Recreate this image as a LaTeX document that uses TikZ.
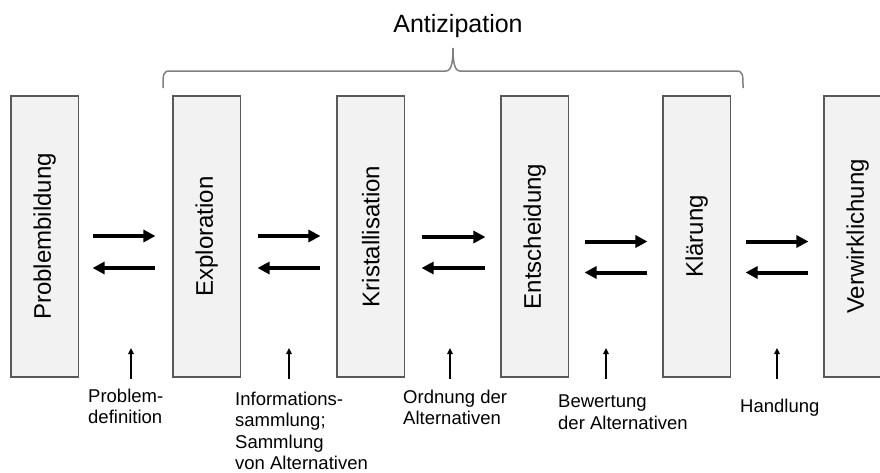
\documentclass[tikz,border=0pt]{standalone}
\usepackage{fontspec}
\setmainfont{Liberation Sans}
\usetikzlibrary{arrows.meta,calc}
\definecolor{boxfill}{HTML}{F2F2F2}
\definecolor{boxline}{HTML}{595959}
\definecolor{bracecol}{HTML}{7F7F7F}
\begin{document}
\begin{tikzpicture}[x=1pt,y=-1pt,
  stage/.style={draw=boxline,fill=boxfill,line width=1.1pt,rotate=90,
    minimum width=281pt,minimum height=67.5pt,inner sep=0pt,
    font=\fontsize{24}{28}\selectfont},
  flow/.style={line width=4pt,-{Triangle[length=12pt,width=12pt]}},
  hint/.style={line width=1.2pt,-{Triangle[length=6pt,width=5.5pt]}},
  lbl/.style={anchor=north west,align=left,inner sep=0pt,
    font=\fontsize{18.5}{21.5}\selectfont},
  bracestyle/.style={draw=bracecol,line width=1.5pt}]
\useasboundingbox (0,0) rectangle (880,472);

% title and brace
\node[anchor=base,inner sep=0pt,font=\fontsize{25}{30}\selectfont] (title) at (458,32) {Antizipation};
\draw[bracestyle] (163,88) .. controls (163,74) and (163,71) .. (170,71)
  -- (446,71) .. controls (452,71) and (453,60) .. (453,48)
  .. controls (453,60) and (454,71) .. (460,71)
  -- (736,71) .. controls (743,71) and (743,74) .. (743,88);

% stages
\node[stage] (b1) at (44.75,236.5) {Problembildung};
\node[stage] (b2) at (206.75,236.5) {Exploration};
\node[stage] (b3) at (370.75,236.5) {Kristallisation};
\node[stage] (b4) at (534.75,236.5) {Entscheidung};
\node[stage] (b5) at (696.75,236.5) {Klärung};
\node[stage] (b6) at (857.75,236.5) {Verwirklichung};

% double arrows
\foreach \a/\b/\s/\e/\ya/\yb in {b1/b2/13.5/-17/-0.5/31.5, b2/b3/16.5/-16/-0.5/31.5,
  b3/b4/16.5/-15/0.5/31.5, b4/b5/15.5/-15/5/36, b5/b6/14.5/-15/5/36}{
  \draw[flow] ($(\a.south)+(\s,\ya)$) -- ($(\b.north)+(\e,\ya)$);
  \draw[flow] ($(\b.north)+(\e,\yb)$) -- ($(\a.south)+(\s,\yb)$);
}

% small arrows
\coordinate (h1) at (131,348);
\coordinate (h2) at (289,348);
\coordinate (h3) at (450,348);
\coordinate (h4) at (606,348);
\coordinate (h5) at (777,348);
\foreach \h in {h1,h2,h3,h4,h5}{
  \draw[hint] ($(\h |- b1.west)+(0,1)$) -- (\h);
}

% labels
\node[lbl] (l1) at (88,388.5) {Problem-\\definition};
\node[lbl] (l2) at (235,391.5) {Informations-\\sammlung;\\Sammlung\\von Alternativen};
\node[lbl] (l3) at (403,389.5) {Ordnung der\\Alternativen};
\node[lbl] (l4) at (558,394.8) {Bewertung\\der Alternativen};
\node[lbl] (l5) at (740,398.5) {Handlung};
\end{tikzpicture}
\end{document}
